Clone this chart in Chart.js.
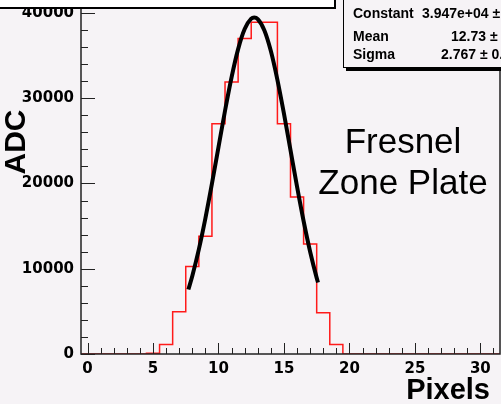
<!DOCTYPE html>
<html>
<head>
<meta charset="utf-8">
<style>
  html, body { margin: 0; padding: 0; background: #f6f3f6; overflow: hidden; }
  canvas { display: block; }
</style>
</head>
<body>
<canvas id="chart" width="501" height="404"></canvas>
<script src="https://cdn.jsdelivr.net/npm/chart.js"></script>
<script>
// histogram: one bin per pixel, bin centres 0..31
const binCentres = [0, 1, 2, 3, 4, 5, 6, 7, 8, 9, 10, 11, 12, 13, 14, 15,
                    16, 17, 18, 19, 20, 21, 22, 23, 24, 25, 26, 27, 28, 29, 30, 31];
const adcCounts  = [0, 0, 0, 0, 0, 100, 1100, 4950, 10250, 13800, 27000, 31900, 37000, 38900, 38900, 27000,
                    18400, 12900, 4850, 1100, 0, 0, 0, 0, 0, 0, 0, 0, 0, 0, 0, 0];

// gaussian fit curve
const fitX = [7.7, 8.0, 8.5, 9.0, 9.5, 10.0, 10.5, 11.0, 11.5, 12.0, 12.5, 12.73,
              13.0, 13.5, 14.0, 14.5, 15.0, 15.5, 16.0, 16.5, 17.0, 17.5, 17.6];
const fitY = [7560, 9160, 12270, 15910, 19970, 24260, 28530, 32460, 35760, 38120, 39330, 39470,
              39280, 37970, 35530, 32160, 28190, 23910, 19630, 15600, 12000, 8930, 8390];

const yTickLabels = [0, 10000, 20000, 30000, 40000];
const xTickLabels = [0, 5, 10, 15, 20, 25, 30];

const statNames  = ['Constant', 'Mean', 'Sigma'];
const statValues = ['3.947e+04 \u00b1 4.5e+02', '12.73 \u00b1 0.01', '2.767 \u00b1 0.009'];

// build step points at the bin edges
function histPoints() {
  const pts = binCentres.map((c, i) => ({ x: c - 0.5, y: adcCounts[i] }));
  const last = binCentres.length - 1;
  pts.push({ x: binCentres[last] + 0.5, y: adcCounts[last] });
  return pts;
}

const rootStyle = {
  id: 'rootStyle',
  beforeDraw(chart) {
    const ctx = chart.ctx;
    ctx.save();
    ctx.fillStyle = '#f6f3f6';
    ctx.fillRect(0, 0, chart.width, chart.height);
    ctx.restore();
  },
  afterDatasetsDraw(chart) {
    const ctx = chart.ctx;
    const xs = chart.scales.x, ys = chart.scales.y;
    const a = chart.chartArea;
    ctx.save();
    ctx.strokeStyle = '#222';
    ctx.lineWidth = 1.5;
    // frame lines
    ctx.beginPath();
    ctx.moveTo(a.left, a.top);
    ctx.lineTo(a.left, a.bottom);
    ctx.lineTo(a.right, a.bottom);
    ctx.lineTo(a.right, a.top);
    ctx.stroke();
    // y ticks, drawn inward
    ctx.lineWidth = 1;
    ctx.beginPath();
    for (let v = 0; v <= 40000; v += 2000) {
      const p = Math.round(ys.getPixelForValue(v)) + 0.5;
      const len = v % 10000 === 0 ? 14 : 7;
      ctx.moveTo(a.left, p);
      ctx.lineTo(a.left + len, p);
    }
    // x ticks
    for (let v = 0; v <= 31; v++) {
      const p = Math.round(xs.getPixelForValue(v)) + 0.5;
      const len = v % 5 === 0 ? 11 : 6;
      ctx.moveTo(p, a.bottom);
      ctx.lineTo(p, a.bottom - len);
    }
    ctx.stroke();

    // y tick labels
    ctx.fillStyle = '#000';
    ctx.font = 'bold 15px "DejaVu Sans", sans-serif';
    ctx.textAlign = 'right';
    ctx.textBaseline = 'middle';
    yTickLabels.forEach(v => ctx.fillText(String(v), a.left - 7, ys.getPixelForValue(v)));

    // labels
    ctx.font = '35px "Liberation Sans", Arial, sans-serif';
    ctx.textAlign = 'center';
    ctx.textBaseline = 'alphabetic';
    ctx.fillText('Fresnel', 403, 153);
    ctx.fillText('Zone Plate', 403, 194);

    ctx.font = 'bold 29px "Liberation Sans", Arial, sans-serif';
    ctx.textAlign = 'right';
    ctx.fillText('Pixels', 490, 399);

    ctx.save();
    ctx.translate(25, 142);
    ctx.rotate(-Math.PI / 2);
    ctx.textAlign = 'center';
    ctx.font = 'bold 30px "Liberation Sans", Arial, sans-serif';
    ctx.fillText('ADC', 0, 0);
    ctx.restore();

    // title box (cut off at the top)
    ctx.fillStyle = '#fff';
    ctx.fillRect(-5, -30, 340, 38);
    ctx.strokeStyle = '#000';
    ctx.lineWidth = 2;
    ctx.strokeRect(-5, -30, 340, 38);

    // stats box
    ctx.fillStyle = '#000';
    ctx.fillRect(346, 68, 160, 3);
    ctx.fillStyle = '#f6f3f6';
    ctx.fillRect(343.5, -2, 170, 69.5);
    ctx.lineWidth = 1;
    ctx.strokeStyle = '#000';
    ctx.strokeRect(343.5, -2, 170, 69.5);
    ctx.fillStyle = '#000';
    ctx.font = 'bold 14px "Liberation Sans", Arial, sans-serif';
    ctx.textAlign = 'left';
    const rowY = [18, 41, 59];
    const valX = [422, 451, 441];
    statNames.forEach((n, i) => {
      ctx.fillText(n, 353, rowY[i]);
      ctx.fillText(statValues[i], valX[i], rowY[i]);
    });
    ctx.restore();
  }
};

new Chart(document.getElementById('chart'), {
  type: 'line',
  data: {
    datasets: [
      {
        label: 'fit',
        data: fitX.map((x, i) => ({ x: x, y: fitY[i] })),
        borderColor: '#000',
        borderWidth: 4,
        pointRadius: 0,
        cubicInterpolationMode: 'monotone',
        fill: false
      },
      {
        label: 'hist',
        data: histPoints(),
        borderColor: '#ff1a1a',
        borderWidth: 1.5,
        pointRadius: 0,
        stepped: true,
        fill: false
      }
    ]
  },
  options: {
    responsive: false,
    animation: false,
    devicePixelRatio: 1,
    layout: { padding: { top: 4, right: 1, left: 0, bottom: 0 } },
    plugins: { legend: { display: false }, tooltip: { enabled: false }, title: { display: false } },
    scales: {
      x: {
        type: 'linear',
        min: -0.5,
        max: 31.5,
        grid: { display: false, drawTicks: false },
        border: { display: false },
        ticks: {
          stepSize: 5,
          includeBounds: false,
          autoSkip: false,
          maxRotation: 0,
          padding: 6,
          color: '#000',
          font: { family: '"DejaVu Sans"', size: 15, weight: 'bold' },
          callback: v => xTickLabels.includes(v) ? String(v) : ''
        },
        afterFit(s) { s.height = 50; s.paddingLeft = 0; s.paddingRight = 0; }
      },
      y: {
        type: 'linear',
        min: 0,
        max: 41050,
        grid: { display: false, drawTicks: false },
        border: { display: false },
        ticks: { display: false, stepSize: 10000 },
        afterFit(s) { s.width = 81; s.paddingTop = 0; s.paddingBottom = 0; }
      }
    }
  },
  plugins: [rootStyle]
});
</script>
</body>
</html>
